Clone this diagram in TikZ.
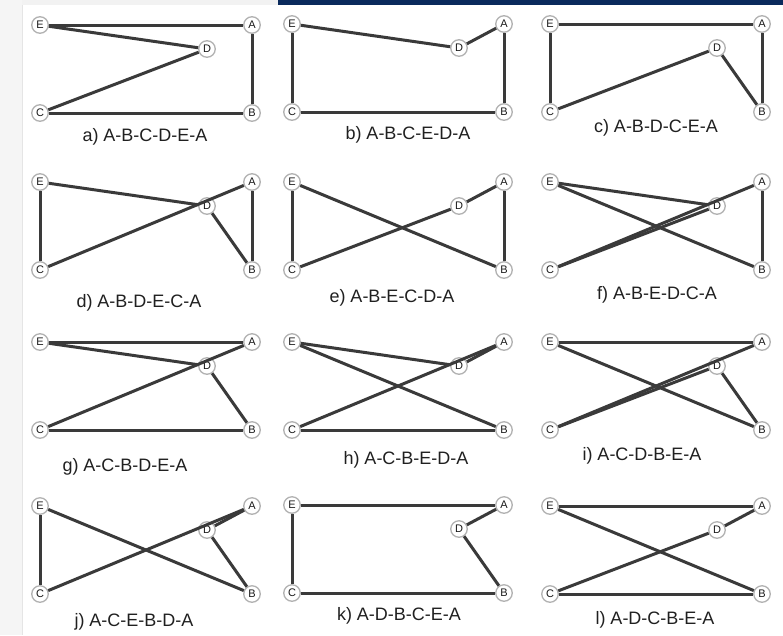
\documentclass[tikz,border=0pt]{standalone}
\usepackage{fontspec}
\setmainfont{Liberation Sans}
\definecolor{navy}{RGB}{10,42,92}
\definecolor{edgegray}{RGB}{58,58,58}

\begin{document}
\begin{tikzpicture}[x=1pt,y=-1pt]
\tikzstyle{city}=[circle,draw=gray!60,line width=1.3pt,fill=white,inner sep=0pt,minimum size=16.5pt,text=gray!20!black,font=\fontsize{11}{11}\selectfont]
\tikzstyle{tour}=[draw=edgegray,line width=3pt]
\tikzstyle{caption}=[text=gray!25!black,font=\fontsize{18}{20}\selectfont]
% page and frame strips
\fill[white] (0,0) rectangle (783,635);
\fill[gray!8] (0,0) rectangle (22,635);
\draw[gray!20] (22,5) -- (22,635);
\fill[gray!10] (22,0) rectangle (278,5);
\fill[navy] (278,0) rectangle (783,5);
% one panel per tour
\foreach \p/\ex/\ey/\lx/\ly/\tour/\txt in {
  a/40/25/145/137/{B,C,D,E,A}/A-B-C-D-E-A,
  b/292/24/408/135/{B,C,E,D,A}/A-B-C-E-D-A,
  c/550/24/656/128/{B,D,C,E,A}/A-B-D-C-E-A,
  d/40/182/139/303/{B,D,E,C,A}/A-B-D-E-C-A,
  e/292/182/392/298/{B,E,C,D,A}/A-B-E-C-D-A,
  f/550/182/657/295/{B,E,D,C,A}/A-B-E-D-C-A,
  g/40/342/125/467/{C,B,D,E,A}/A-C-B-D-E-A,
  h/292/342/406/460/{C,B,E,D,A}/A-C-B-E-D-A,
  i/550/342/642/456/{C,D,B,E,A}/A-C-D-B-E-A,
  j/40/506/134/622/{C,E,B,D,A}/A-C-E-B-D-A,
  k/292/505/399/616/{D,B,C,E,A}/A-D-B-C-E-A,
  l/550/506/655/620/{D,C,B,E,A}/A-D-C-B-E-A}{
  \begin{scope}[shift={(\ex,\ey)}]
    \node[city] (\p-E) at (0,0) {E};
    \node[city] (\p-A) at (212,0) {A};
    \node[city] (\p-D) at (167,24) {D};
    \node[city] (\p-C) at (0,88) {C};
    \node[city] (\p-B) at (212,88) {B};
  \end{scope}
  \foreach \v [remember=\v as \u (initially A)] in \tour
    \draw[tour] (\p-\u) -- (\p-\v);
  \node[caption] (\p-cap) at (\lx,\ly) {\p) \txt};
}
\end{tikzpicture}
\end{document}
